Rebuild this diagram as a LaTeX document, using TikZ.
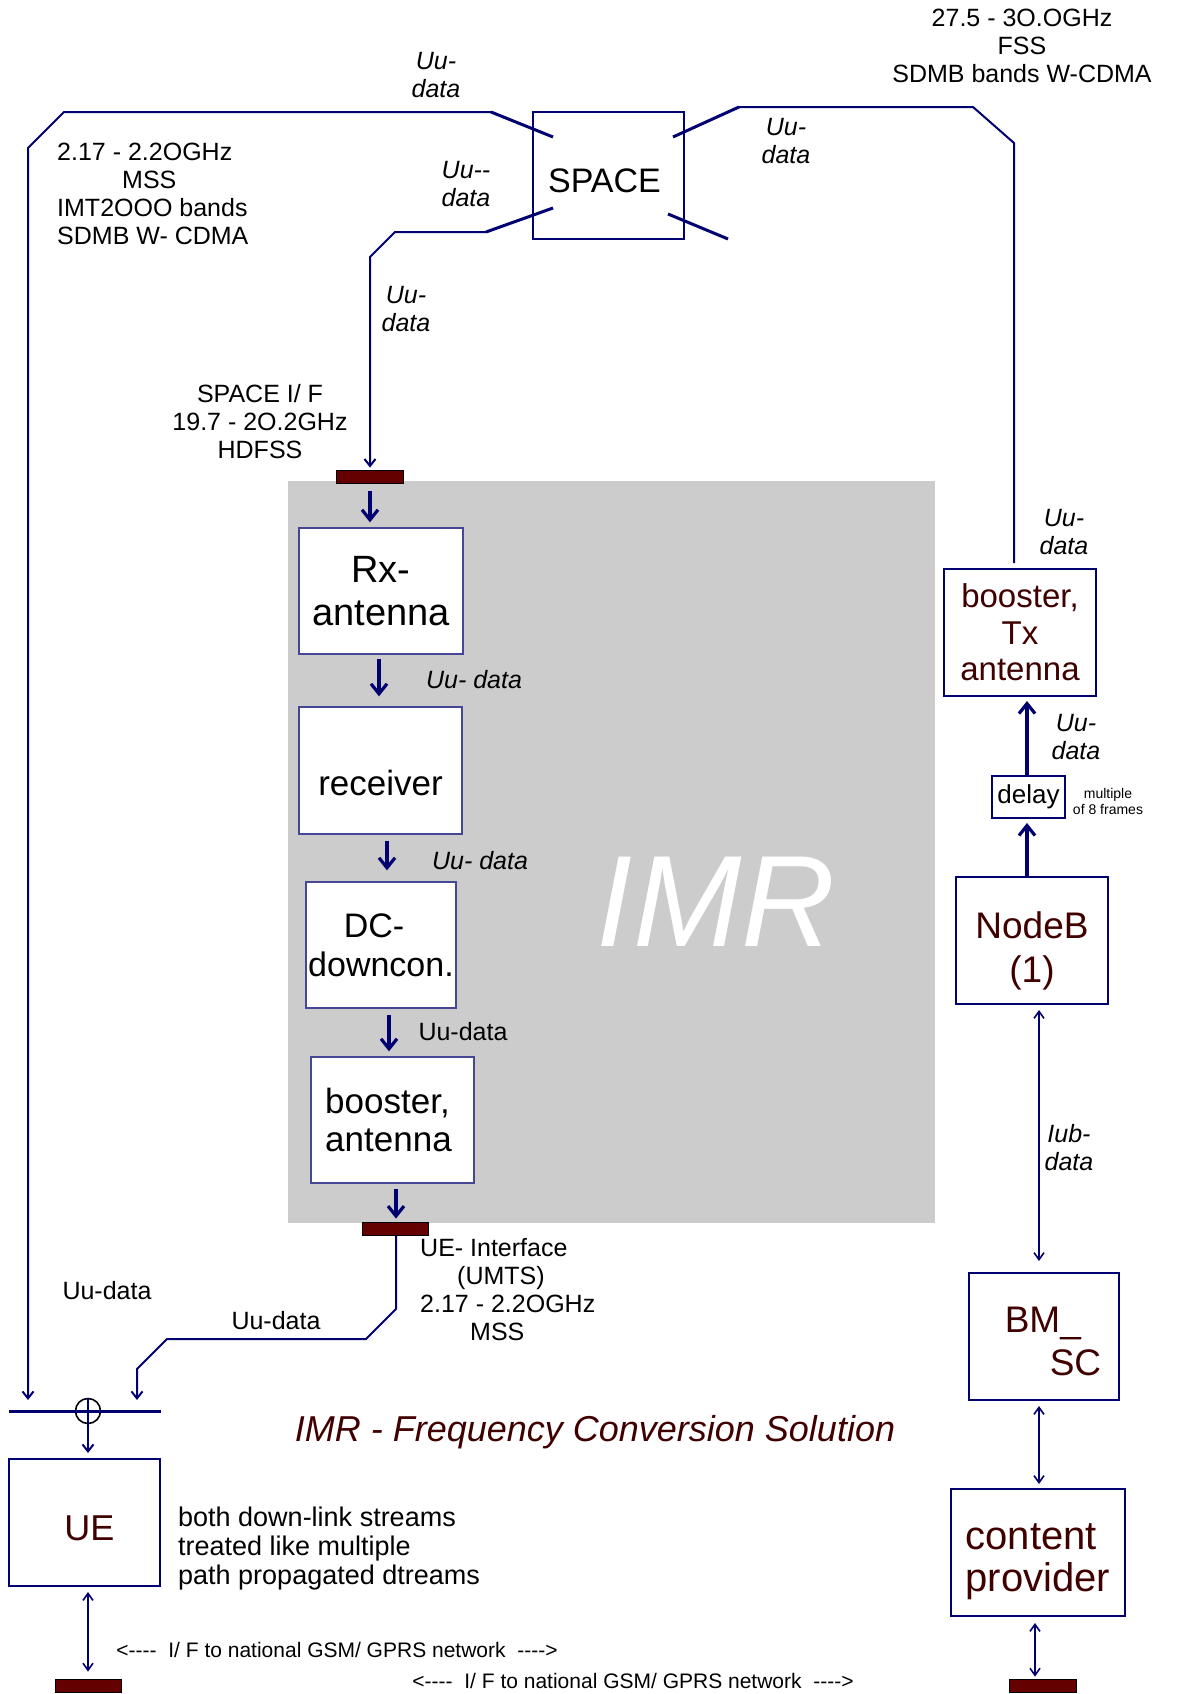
\documentclass[tikz,border=0pt]{standalone}
\usepackage{fontspec}
\setmainfont{Liberation Sans}[Ligatures=TeXOff]
\usetikzlibrary{arrows.meta,calc}
\definecolor{navy}{RGB}{0,0,112}
\definecolor{boxline}{RGB}{70,70,150}
\definecolor{maroon}{RGB}{64,0,0}
\definecolor{barred}{RGB}{100,0,0}
\definecolor{imrgrey}{RGB}{204,204,204}
\newcommand{\fsz}[2]{\fontsize{#1bp}{#2bp}\selectfont}

\begin{document}
\begin{tikzpicture}[x=1bp,y=-1bp,
  greybox/.style={draw=boxline,line width=1.3bp,fill=white,inner sep=0pt},
  plainbox/.style={draw=navy,line width=1.5bp,fill=white,inner sep=0pt},
  sidebox/.style={draw=navy,line width=2bp,fill=white,inner sep=0pt,text=maroon,align=center},
  bar/.style={draw=black,line width=0.8bp,fill=barred,minimum height=13bp,inner sep=0pt},
  link/.style={draw=navy,line width=2bp},
  ant/.style={draw=navy,line width=3bp},
  thinarr/.style={link,-{Straight Barb[length=7bp,width=11bp]}},
  bothways/.style={draw=navy,line width=1.6bp,{Straight Barb[length=7bp,width=10bp]}-{Straight Barb[length=7bp,width=10bp]}},
  fatarr/.style={draw=navy,line width=3.2bp,-{Straight Barb[length=10bp,width=16bp]}},
  lbl/.style={inner sep=0pt,font=\fsz{25}{28}},
  ilbl/.style={inner sep=0pt,font=\fsz{25}{28}\itshape},
]
\path[fill=white] (0,0) rectangle (1176,1694);
\useasboundingbox (0,0) rectangle (1176,1694);

% the IMR area
\node[fill=imrgrey,minimum width=647bp,minimum height=742bp,inner sep=0pt] (imrzone) at (611.5,852) {};
\node[text=white,font=\fsz{130}{130}\itshape,inner sep=0pt] (imrTxt) at (716,902) {IMR};

% boxes
\node[plainbox,minimum width=151bp,minimum height=127bp,font=\fsz{34}{40}] (space) at (608.5,175.5) {\rule{0pt}{34bp}SPACE\hspace*{8bp}};
\node[greybox,minimum width=164bp,minimum height=126bp,font=\fsz{38}{43},align=center] (rx) at (381,591) {Rx-\\antenna};
\node[greybox,minimum width=163bp,minimum height=127bp,font=\fsz{35}{40},text height=51bp] (recv) at (380.5,770.5) {receiver};
\node[greybox,minimum width=150bp,minimum height=126bp,font=\fsz{34}{39},align=center] (dc) at (381,945) {DC-\hspace*{14bp}\\downcon.};
\node[greybox,minimum width=163bp,minimum height=126bp,font=\fsz{35}{38},align=left] (boostA) at (392.5,1120) {booster,\hspace*{10bp}\\antenna};
\node[sidebox,minimum width=152bp,minimum height=127bp,font=\fsz{33}{36.5}] (boostTx) at (1020,632.5) {booster,\\Tx\\antenna};
\node[sidebox,minimum width=73bp,minimum height=42bp,text=black,font=\fsz{26}{28}] (delay) at (1028.5,797) {delay};
\node[sidebox,minimum width=152bp,minimum height=127bp,font=\fsz{37}{44}] (nodeb) at (1032,940.5) {\rule{0pt}{47bp}NodeB\\(1)};
\node[sidebox,minimum width=150bp,minimum height=127bp,font=\fsz{37}{43},align=left] (bmsc) at (1044,1336.5) {\rule{0pt}{36bp}\hspace*{18bp}BM\_\\\hspace*{63bp}SC};
\node[sidebox,minimum width=174bp,minimum height=127bp,font=\fsz{40}{42},align=left] (cprov) at (1038,1552.5) {\rule{0pt}{44bp}content\\provider};
\node[sidebox,minimum width=151bp,minimum height=127bp,font=\fsz{36}{40}] (ue) at (84.5,1522.5) {\rule{0pt}{36bp}\hspace*{10bp}UE};

% interfaces
\node[bar,minimum width=67bp] (barTop) at (370,476.5) {};
\node[bar,minimum width=66bp] (barUE) at (395,1228.5) {};
\node[bar,minimum width=66bp] (barL) at (88,1685.5) {};
\node[bar,minimum width=67bp] (barR) at (1042.5,1685.5) {};

% combiner
\node[circle,draw=black,line width=1.6bp,minimum size=25bp,inner sep=0pt] (comb) at (88,1411) {};
\coordinate (combL) at (9,1411);
\coordinate (combR) at (161,1411);
\draw[navy,line width=3bp] (combL) -- (combR);
\draw[link] (comb.north) -- (comb.south);

% links round SPACE
\coordinate (sA) at (553,137);
\coordinate (sAb) at (491,112);
\coordinate (sAc) at (64,112);
\coordinate (sAd) at (28,148);
\coordinate (inA) at (28,1400);
\draw[ant] (sA) -- (sAb);
\draw[thinarr] (sAb) -- (sAc) -- (sAd) -- (inA);

\coordinate (sB) at (553,208);
\coordinate (sBb) at (486,232);
\coordinate (sBc) at (395,232);
\coordinate (sBd) at (370,257);
\draw[ant] (sB) -- (sBb);
\draw[thinarr] (sBb) -- (sBc) -- (sBd) -- ($(barTop.north)+(0,-2)$);

\coordinate (sC) at (673,137);
\coordinate (sCb) at (739,107);
\coordinate (sCc) at (973,107);
\coordinate (sCd) at (1014,143);
\draw[ant] (sC) -- (sCb);
\draw[link] (sCb) -- (sCc) -- (sCd) -- ($(boostTx.north)+(-6,-5)$);

\coordinate (sD) at (668,214);
\coordinate (sDb) at (728,239);
\draw[ant] (sD) -- (sDb);

% down the IMR chain
\draw[fatarr] ($(barTop.south)+(0,8)$) -- ($(barTop.south |- rx.north)+(0,-5)$);
\draw[fatarr] ($(rx.south)+(-2,4)$) -- ($(rx.south |- recv.north)+(-2,-10)$);
\draw[fatarr] ($(recv.south)+(6.5,6)$) -- ($(recv.south |- dc.north)+(6.5,-11)$);
\draw[fatarr] ($(dc.south)+(8,6)$) -- ($(dc.south |- boostA.north)+(8,-5)$);
\draw[fatarr] ($(barUE.north |- boostA.south)+(1,5)$) -- ($(barUE.north)+(1,-3)$);

% UE interface to combiner
\coordinate (eB) at (396,1309);
\coordinate (eC) at (366,1339);
\coordinate (eD) at (167,1339);
\coordinate (eE) at (137,1369);
\coordinate (inB) at (137,1400);
\draw[thinarr] ($(barUE.south)+(1,0)$) -- (eB) -- (eC) -- (eD) -- (eE) -- (inB);
\draw[thinarr] (comb.south) -- ($(comb |- ue.north)+(0,-5)$);
\draw[bothways] ($(comb |- ue.south)+(0,5)$) -- ($(comb |- barL.north)+(0,-7)$);

% NodeB side
\draw[fatarr] ($(nodeb.north)+(-5,0)$) -- ($(nodeb.north |- delay.south)+(-5,4)$);
\draw[fatarr] ($(delay.north)+(-1.5,0)$) -- ($(delay.north |- boostTx.south)+(-1.5,4)$);
\draw[bothways] ($(nodeb.south)+(7,5)$) -- ($(nodeb.south |- bmsc.north)+(7,-11)$);
\draw[bothways] ($(bmsc.south)+(-5,5)$) -- ($(bmsc.south |- cprov.north)+(-5,-4)$);
\draw[bothways] ($(cprov.south)+(-3,6)$) -- ($(cprov.south |- barR.north)+(-3,-2)$);

% labels
\node[ilbl,align=center] (uuTop) at (436,75) {Uu-\\data};
\node[lbl,align=left,anchor=west] (mssL) at (57,194) {2.17 - 2.2OGHz\\\hspace*{65bp}MSS\\IMT2OOO bands\\SDMB W- CDMA};
\node[ilbl,align=center] (uuSpL) at (466,184) {Uu--\\data};
\node[ilbl,align=center] (uuSpR) at (786,141) {Uu-\\data};
\node[lbl,align=center] (fss) at (1022,46) {27.5 - 3O.OGHz\\FSS\\SDMB bands W-CDMA};
\node[ilbl,align=center] (uuDown) at (406,309) {Uu-\\data};
\node[lbl,align=center] (spaceIf) at (260,422) {SPACE I/ F\\19.7 - 2O.2GHz\\HDFSS};
\node[ilbl] (uuRx) at (474,680) {Uu- data};
\node[ilbl] (uuRecv) at (480,861) {Uu- data};
\node[lbl] (uuDc) at (463,1032) {Uu-data};
\node[lbl,align=left,anchor=west] (ueIf) at (420,1290) {UE- Interface\\\hspace*{37bp}(UMTS)\\2.17 - 2.2OGHz\\\hspace*{50bp}MSS};
\node[lbl] (uuBend) at (276,1321) {Uu-data};
\node[lbl] (uuLeft) at (107,1291) {Uu-data};
\node[lbl,align=left,anchor=west,font=\fsz{27}{29}] (streams) at (178,1548) {both down-link streams\\treated like multiple\\path propagated dtreams};
\node[lbl,font=\fsz{21}{24}] (gsmL) at (337,1650) {<----\ \ I/ F to national GSM/ GPRS network\ \ ---->};
\node[lbl,font=\fsz{21}{24}] (gsmR) at (633,1681) {<----\ \ I/ F to national GSM/ GPRS network\ \ ---->};
\node[text=maroon,font=\fsz{36}{40}\itshape,inner sep=0pt] (title) at (595,1432) {IMR - Frequency Conversion Solution};
\node[ilbl,align=center] (uuTx) at (1064,532) {Uu-\\data};
\node[ilbl,align=center] (uuDelay) at (1076,737) {Uu-\\data};
\node[lbl,align=center,font=\fsz{14}{16}] (frames) at (1108,801) {multiple\\of 8 frames};
\node[ilbl,align=center] (iub) at (1069,1148) {Iub-\\data};
\end{tikzpicture}
\end{document}
